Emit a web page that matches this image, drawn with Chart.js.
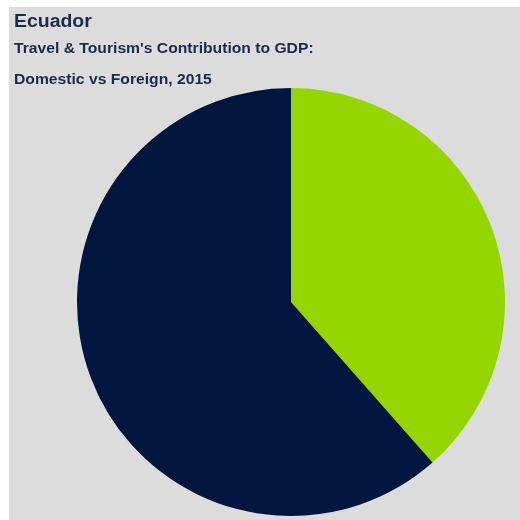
<!DOCTYPE html>
<html>
<head>
<meta charset="utf-8">
<script src="https://cdn.jsdelivr.net/npm/chart.js@4/dist/chart.umd.min.js"></script>
<style>
    body { margin: 0; background: #fff; font-family: "Liberation Sans", Arial, sans-serif; }
    #wrap { position: absolute; left: 9px; top: 7px; width: 511px; height: 513px; background: #dcdcdc; }
    #pieChart { position: absolute; left: 0; top: 0; }
    .t { position: absolute; left: 5px; color: #1b2a4a; font-weight: bold; white-space: nowrap; transform-origin: left top; }
    #title { top: 4px; font-size: 18px; transform: scaleX(1.08); }
    #sub1 { top: 33px; font-size: 14px; transform: scaleX(1.12); }
    #sub2 { top: 64px; font-size: 14px; transform: scaleX(1.12); }
</style>
</head>
<body>
<div id="wrap">
    <canvas id="pieChart" width="511" height="513"></canvas>
    <div class="t" id="title">Ecuador</div>
    <div class="t" id="sub1">Travel &amp; Tourism's Contribution to GDP:</div>
    <div class="t" id="sub2">Domestic vs Foreign, 2015</div>
</div>
<script>
// Share of T&T contribution
const segments = ['Foreign spending', 'Domestic spending'];
const shares = [38.5, 61.5];
const sliceColors = ['#96d600', '#00163f'];

const ctx = document.getElementById('pieChart').getContext('2d');
new Chart(ctx, {
    type: 'pie',
    data: {
        labels: segments,
        datasets: [{
            data: shares,
            backgroundColor: sliceColors,
            borderWidth: 0,
        }]
    },
    options: {
        responsive: false,
        animation: false,
        layout: {
            padding: { left: 68, right: 15, top: 81, bottom: 4 }
        },
        plugins: {
            legend: { display: false },
            tooltip: { enabled: false },
        }
    }
});
</script>
</body>
</html>
